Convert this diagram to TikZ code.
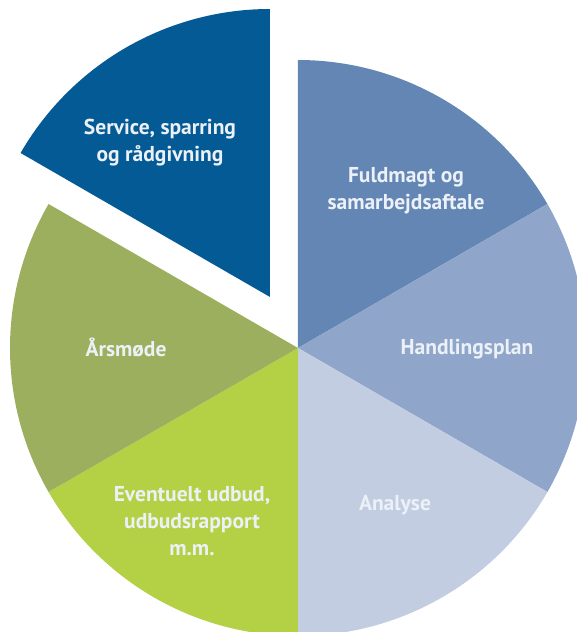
\documentclass[tikz,border=0pt]{standalone}
\usepackage{fontspec}
\setmainfont{PT Sans}
\usepackage{xcolor}
\definecolor{cdark}{RGB}{4,90,148}
\definecolor{cmid}{RGB}{99,134,180}
\definecolor{clight}{RGB}{143,165,202}
\definecolor{cpale}{RGB}{194,205,226}
\definecolor{clime}{RGB}{180,209,70}
\definecolor{colive}{RGB}{156,175,94}
\definecolor{ctext}{RGB}{236,241,247}

\begin{document}
\begin{tikzpicture}[
    x=1pt, y=1pt,
    lbl/.style={text=ctext, font=\bfseries\fontsize{21.5}{27}\selectfont, align=center},
  ]
  \useasboundingbox (-298,-284) rectangle (279,348);
  \clip (-298,-284) rectangle (279,348);

  %% Pie slices (radius 288)
  \fill[cmid]   (0,0) -- (90:288)  arc[start angle=90,  end angle=30,  radius=288] -- cycle;
  \fill[clight] (0,0) -- (30:288)  arc[start angle=30,  end angle=-30, radius=288] -- cycle;
  \fill[cpale]  (0,0) -- (-30:288) arc[start angle=-30, end angle=-90, radius=288] -- cycle;
  \fill[clime]  (0,0) -- (-90:288) arc[start angle=-90, end angle=-150, radius=288] -- cycle;
  \fill[colive] (0,0) -- (210:288) arc[start angle=210, end angle=150, radius=288] -- cycle;

  %% Exploded slice
  \coordinate (off) at (-28,51);
  \fill[cdark, shift={(off)}] (0,0) -- (150:288) arc[start angle=150, end angle=90, radius=288] -- cycle;

  %% Labels
  \node[lbl] (service)  at (-138,205) {Service, sparring\\og rådgivning};
  \node[lbl] (fuldmagt) at (108,157)  {Fuldmagt og\\samarbejdsaftale};
  \node[lbl] (handling) at (169,-1)   {Handlingsplan};
  \node[lbl] (analyse)  at (97,-157)  {Analyse};
  \node[lbl] (udbud)    at (-106,-173) {Eventuelt udbud,\\udbudsrapport\\m.m.};
  \node[lbl] (aarsmode) at (-172,0)   {Årsmøde};

\end{tikzpicture}
\end{document}
